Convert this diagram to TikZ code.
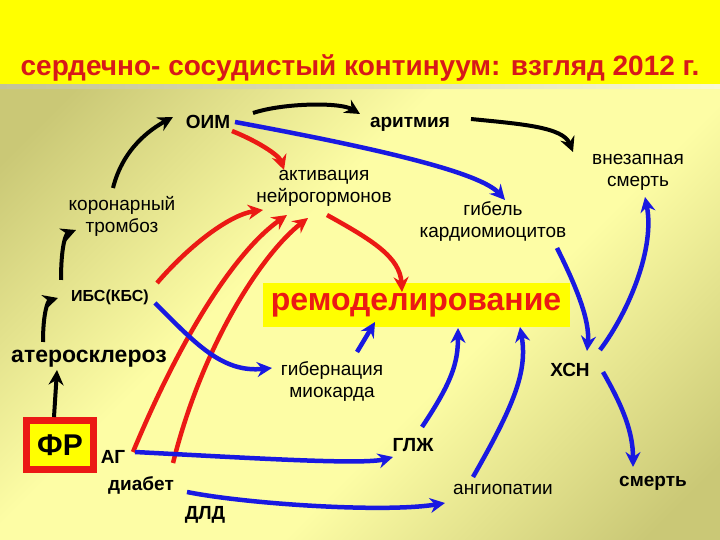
\documentclass[tikz,border=0pt]{standalone}
\usepackage{fontspec}
\setmainfont{Liberation Sans}
\usetikzlibrary{arrows.meta,calc}

\definecolor{hdr}{RGB}{255,255,0}
\definecolor{bgdark}{RGB}{202,200,118}
\definecolor{bglight}{RGB}{253,253,165}
\definecolor{sepL}{RGB}{195,195,150}
\definecolor{sepR}{RGB}{250,250,210}
\definecolor{titred}{RGB}{215,25,25}
\definecolor{arred}{RGB}{235,25,20}
\definecolor{arblue}{RGB}{25,25,225}
\pgfdeclarehorizontalshading{bgshade}{100bp}{color(0bp)=(bgdark); color(19bp)=(bgdark);
  color(41bp)=(bglight); color(59bp)=(bglight); color(81bp)=(bgdark); color(100bp)=(bgdark)}

\begin{document}
\begin{tikzpicture}[x=1pt,y=1pt,>={Stealth[length=15pt,width=15pt,inset=5pt]},
    lbl/.style={font=\fontsize{19}{22}\selectfont,align=center,inner sep=1pt},
    lblb/.style={lbl,font=\fontsize{19}{22}\selectfont\bfseries},
    blkarr/.style={->,line width=4pt},
    redarr/.style={->,line width=4.5pt,arred},
    bluarr/.style={->,line width=4.5pt,arblue}]
  \useasboundingbox (0,0) rectangle (720,540);
  % background and header
  \shade[shading=bgshade,shading angle=-45] (0,0) rectangle (720,452);
  \fill[hdr] (0,455) rectangle (720,540);
  \shade[left color=sepL,right color=sepR] (0,451) rectangle (720,455);
  \node[font=\fontsize{28}{30}\selectfont\bfseries,text=titred,anchor=base] (title) at (360,464)
    {сердечно- сосудистый континуум: взгляд 2012 г.};

  % labels
  \node[lblb] (oim) at (208,418) {ОИМ};
  \node[lblb] (arit) at (410,416) {аритмия};
  \node[lbl] (vnez) at (638,368) {внезапная\\смерть};
  \node[lbl] (aktiv) at (324,352) {активация\\нейрогормонов};
  \node[lbl] (koron) at (122,324) {коронарный\\тромбоз};
  \node[lbl] (gibel) at (493,318) {гибель\\кардиомиоцитов};
  \node[lblb,font=\fontsize{16}{19}\selectfont\bfseries] (ibs) at (110,243) {ИБС(КБС)};
  \node[fill=hdr,minimum width=307pt,minimum height=44pt,inner sep=0pt,text=arred,
    font=\fontsize{32}{36}\selectfont\bfseries] (remod) at (416,235) {ремоделирование};
  \node[lblb,font=\fontsize{23}{26}\selectfont\bfseries] (ater) at (89,181) {атеросклероз};
  \node[lbl] (giber) at (332,158) {гибернация\\миокарда};
  \node[lblb] (xsn) at (570,170) {ХСН};
  \node[draw=arred,line width=7pt,fill=hdr,minimum width=67pt,minimum height=49pt,
    font=\fontsize{30}{32}\selectfont\bfseries] (fr) at (60,95) {ФР};
  \node[lblb] (ag) at (113,83) {АГ};
  \node[lblb] (glzh) at (413,95) {ГЛЖ};
  \node[lblb] (diabet) at (141,55) {диабет};
  \node[lbl] (angio) at (503,51) {ангиопатии};
  \node[lblb] (smert) at (653,57) {смерть};
  \node[lblb] (dld) at (205,25) {ДЛД};

  % black chain
  \draw[blkarr] ($(fr)+(-6,28)$) -- ($(ater)+(-32,-11)$);
  \draw[blkarr] ($(ater)+(-46,17)$) .. controls +(0,30) and +(-10,-3) .. ($(ibs)+(-52,-1)$);
  \draw[blkarr] ($(ibs)+(-49,17)$) .. controls +(0,35) and +(-10,-4) .. ($(koron)+(-46,-14)$);
  \draw[blkarr] ($(koron)+(-9,28)$) .. controls +(10,40) and +(-22,-12) .. ($(oim)+(-35,5)$);
  \draw[blkarr] ($(oim)+(45,9)$) .. controls +(30,10) and +(-20,12) .. ($(arit)+(-50,10)$);
  \draw[blkarr] ($(arit)+(61,5)$) .. controls +(50,-5) and +(-10,25) .. ($(vnez)+(-65,20)$);

  % red arrows
  \draw[redarr] ($(oim)+(24,-9)$) .. controls +(25,-10) and +(-5,15) .. ($(aktiv)+(-40,18)$);
  \draw[redarr] ($(ibs)+(47,14)$) .. controls +(30,35) and +(-35,-5) .. ($(aktiv)+(-61,-22)$);
  \draw[redarr] ($(ag)+(20,5)$) .. controls +(50,120) and +(-50,-35) .. ($(aktiv)+(-37,-27)$);
  \draw[redarr] ($(diabet)+(32,22)$) .. controls +(30,120) and +(-45,-35) .. ($(aktiv)+(-16,-30)$);
  \draw[redarr] ($(aktiv)+(3,-27)$) .. controls +(45,-25) and +(-2,35) .. ($(remod)+(-14,13)$);

  % blue arrows
  \draw[bluarr] ($(oim)+(27,0)$) .. controls +(140,-26) and +(-25,28) .. ($(gibel)+(12,22)$);
  \draw[bluarr] ($(ibs)+(45,-6)$) .. controls +(40,-40) and +(-50,-5) .. ($(giber)+(-60,14)$);
  \draw[bluarr] ($(giber)+(25,30)$) -- ($(remod)+(-41,-17)$);
  \draw[bluarr] ($(glzh)+(9,18)$) .. controls +(30,45) and +(0,-35) .. ($(remod)+(42,-23)$);
  \draw[bluarr] ($(angio)+(-30,12)$) .. controls +(40,70) and +(8,-45) .. ($(remod)+(104,-22)$);
  \draw[bluarr] ($(gibel)+(64,-26)$) .. controls +(20,-40) and +(3,30) .. ($(xsn)+(17,19)$);
  \draw[bluarr] ($(xsn)+(30,20)$) .. controls +(30,40) and +(10,-50) .. ($(vnez)+(7,-25)$);
  \draw[bluarr] ($(xsn)+(33,-2)$) .. controls +(20,-35) and +(0,35) .. ($(smert)+(-20,16)$);
  \draw[bluarr] ($(ag)+(22,5)$) .. controls +(115,-6) and +(-30,-8) .. ($(glzh)+(-20,-12)$);
  \draw[bluarr] ($(diabet)+(46,-7)$) .. controls +(60,-12) and +(-60,-10) .. ($(angio)+(-58,-14)$);
\end{tikzpicture}
\end{document}
